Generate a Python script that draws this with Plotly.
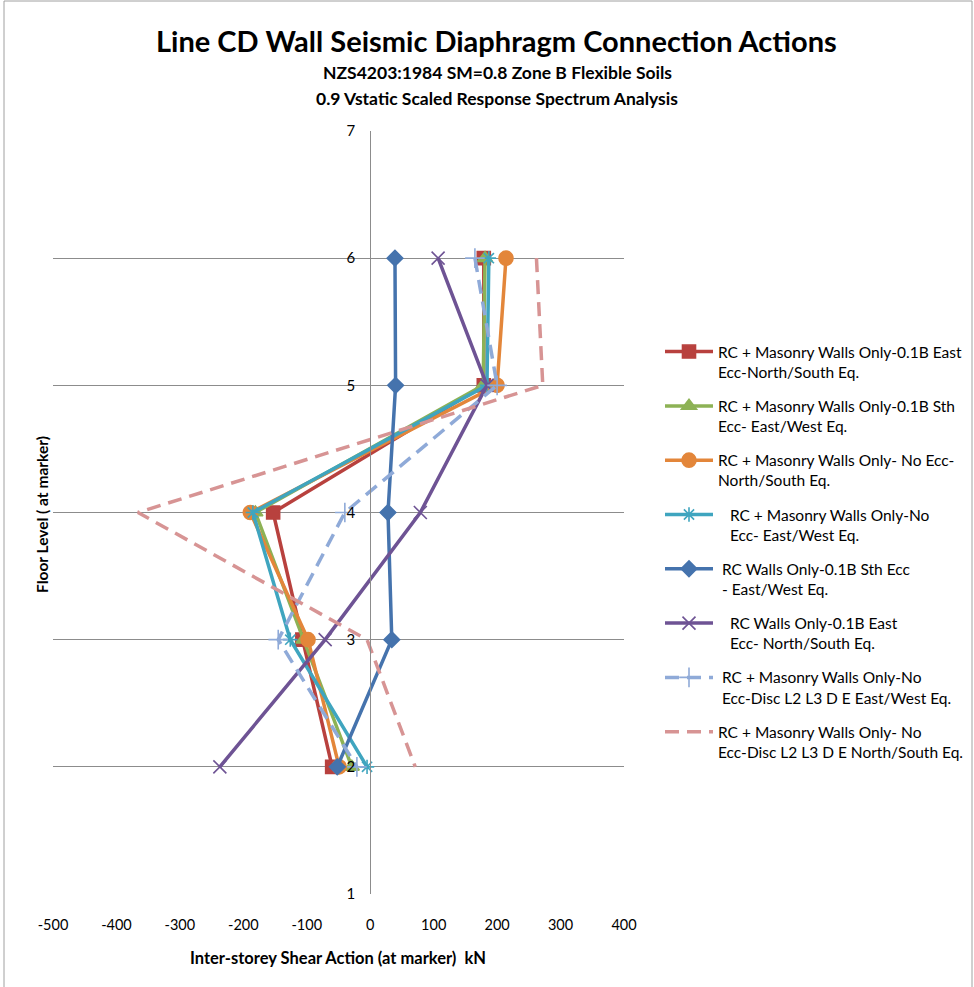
import plotly.graph_objects as go

# Floor levels (at marker)
floors = [6, 5, 4, 3, 2]

# Inter-storey shear actions (kN) for each analysis case
rcm_east_ns = [179, 179, -153, -107, -60]
rcm_sth_ew = [181, 178, -181, -105, -29]
rcm_noecc_ns = [214, 200, -189, -98, -49]
rcm_noecc_ew = [187, 184, -185, -126, -5]
rc_sth_ew = [39, 40, 28, 34, -52]
rc_east_ns = [107, 184, 79, -71, -237]
rcm_disc_ew = [165, 200, -40, -145, -21]
rcm_disc_ns = [262, 272, -366, -5, 71]

# Axis tick labels
x_ticks = [-500, -400, -300, -200, -100, 0, 100, 200, 300, 400]
x_tick_labels = ["-500", "-400", "-300", "-200", "-100", "0", "100", "200", "300", "400"]
y_ticks = [1, 2, 3, 4, 5, 6, 7]

names = [
    "RC + Masonry Walls Only-0.1B East<br>Ecc-North/South Eq.",
    "RC + Masonry Walls Only-0.1B Sth<br>Ecc- East/West Eq.",
    "RC + Masonry Walls Only- No Ecc-<br>North/South Eq.",
    "\u00a0\u00a0\u00a0RC + Masonry Walls Only-No<br>\u00a0\u00a0\u00a0Ecc- East/West Eq.",
    "\u00a0RC Walls Only-0.1B Sth Ecc<br>\u00a0- East/West Eq.",
    "\u00a0\u00a0\u00a0RC Walls Only-0.1B East<br>\u00a0\u00a0\u00a0Ecc- North/South Eq.",
    "\u00a0RC + Masonry Walls Only-No<br>\u00a0Ecc-Disc L2 L3 D E East/West Eq.",
    "RC + Masonry Walls Only- No<br>Ecc-Disc L2 L3 D E North/South Eq.",
]

series = [rcm_east_ns, rcm_sth_ew, rcm_noecc_ns, rcm_noecc_ew,
          rc_sth_ew, rc_east_ns, rcm_disc_ew, rcm_disc_ns]
colors = ["#B8413E", "#8DB255", "#E3863A", "#3FA5BF",
          "#4573AD", "#6E5394", "#8FAAD8", "#D79494"]
symbols = ["square", "triangle-up", "circle", "asterisk-open",
           "diamond", "x-thin-open", "cross-thin-open", None]
sizes = [13, 13, 14, 12, 12, 13, 14, 0]
dashes = ["solid"] * 6 + ["14px,8px", "14px,8px"]

fig = go.Figure()
for i, (vals, name) in enumerate(zip(series, names)):
    marker = dict(color=colors[i], size=sizes[i],
                  line=dict(color=colors[i], width=1.6))
    if symbols[i] is None:
        mode = "lines"
    else:
        mode = "lines+markers"
        marker["symbol"] = symbols[i]
    fig.add_trace(go.Scatter(
        x=vals, y=floors, name=name, mode=mode,
        legendgroup=f"g{i}",
        line=dict(color=colors[i], width=3.5, dash=dashes[i]),
        marker=marker,
    ))

font_family = "Lato, 'Open Sans', sans-serif"

# plot area spans x 53..624 px and y 131..894 px
def px_x(px):
    return (px - 53) / 571

def px_y(py):
    return (894 - py) / 763

def label(text, x, y, size, angle=0):
    return dict(text=text, textangle=angle, xref="paper", yref="paper",
                x=px_x(x), y=px_y(y), xanchor="center", yanchor="middle",
                showarrow=False, font=dict(size=size, family=font_family, color="black"))

fig.update_layout(
    width=974, height=987,
    margin=dict(l=53, r=350, t=131, b=93, autoexpand=False),
    paper_bgcolor="white", plot_bgcolor="white",
    font=dict(family=font_family, color="black"),
    showlegend=True,
    legend=dict(
        x=px_x(660), xanchor="left", y=px_y(335), yanchor="top",
        font=dict(size=15.5, family=font_family),
        valign="top", tracegroupgap=11, itemwidth=48,
        bgcolor="rgba(0,0,0,0)",
    ),
    xaxis=dict(
        range=[-500, 400], tickvals=x_ticks, ticktext=x_tick_labels,
        showgrid=False, zeroline=False, showline=False,
        ticks="", tickfont=dict(size=14.5), ticklabelstandoff=20,
    ),
    yaxis=dict(
        range=[1, 7], tickvals=y_ticks,
        showgrid=True, gridcolor="#8C8C8C", gridwidth=1,
        zeroline=False, showline=True, linecolor="#8C8C8C", linewidth=1,
        anchor="free", position=500 / 900,
        ticks="", tickfont=dict(size=15), ticklabelstandoff=12,
    ),
    shapes=[
        dict(type="rect", xref="paper", yref="paper",
             x0=px_x(4), x1=px_x(972), y0=px_y(1000), y1=px_y(1),
             line=dict(color="#A0A0A0", width=1), layer="below"),
    ],
    annotations=[
        label("<b>Line CD Wall Seismic Diaphragm Connection Actions</b>", 496, 40, 29),
        label("<b>NZS4203:1984 SM=0.8 Zone B Flexible Soils</b>", 497, 73, 17.5),
        label("<b>0.9 Vstatic Scaled Response Spectrum Analysis</b>", 497, 98, 17.5),
        label("<b>Floor Level ( at marker)</b>", 42, 515, 15.5, angle=-90),
        label("<b>Inter-storey Shear Action (at marker)  kN</b>", 338, 958, 16.5),
    ],
)

fig.write_html("out.html")
